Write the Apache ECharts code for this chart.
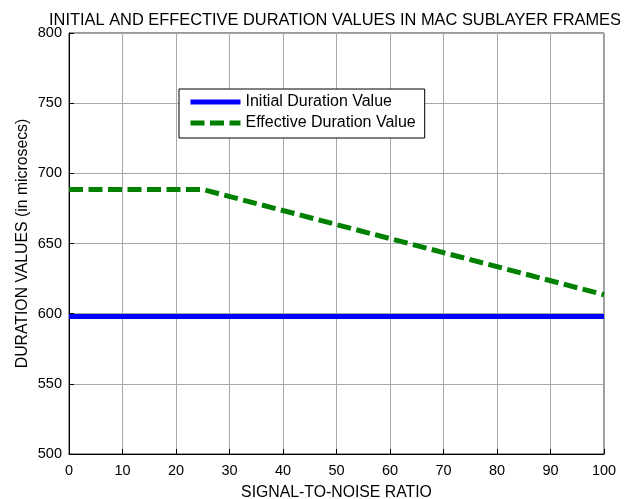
<!DOCTYPE html>
<html>
<head>
<meta charset="utf-8">
<script src="https://cdn.jsdelivr.net/npm/echarts@6/dist/echarts.min.js"></script>
<style>
  html, body { margin: 0; padding: 0; background: #fff; }
  #chart { width: 628px; height: 499px; }
</style>
</head>
<body>
<div id="chart"></div>
<script>
// values
const snr = [0, 25, 100]
const initialDuration = [598, 598, 598]
const effectiveDuration = [688.5, 688.5, 613.5]
const xTicks = [0, 10, 20, 30, 40, 50, 60, 70, 80, 90, 100]
const yTicks = [500, 550, 600, 650, 700, 750, 800]

const font = 'Liberation Sans, Arial, Helvetica, sans-serif'

const chart = echarts.init(document.getElementById('chart'))

const option = {
  animation: false,
  backgroundColor: '#fff',
  title: {
    text: 'INITIAL AND EFFECTIVE DURATION VALUES IN MAC SUBLAYER FRAMES',
    left: 330,
    textAlign: 'center',
    top: 7,
    textStyle: { fontFamily: font, fontSize: 16.4, fontWeight: 'normal', color: '#000' }
  },
  legend: {
    orient: 'vertical',
    left: 179,
    top: 89,
    padding: [5, 9, 7, 9],
    itemWidth: 50,
    itemHeight: 16,
    itemGap: 5,
    borderColor: '#000',
    borderWidth: 1,
    backgroundColor: '#fff',
    itemStyle: { opacity: 0 },
    lineStyle: { width: 5 },
    textStyle: { fontFamily: font, fontSize: 16, color: '#000' },
    data: ['Initial Duration Value', 'Effective Duration Value']
  },
  grid: {
    left: 69,
    right: 24,
    top: 33,
    bottom: 45,
    outerBoundsMode: 'none',
    show: true,
    borderColor: '#333',
    borderWidth: 1
  },
  xAxis: {
    type: 'value',
    min: xTicks[0],
    max: xTicks[xTicks.length - 1],
    interval: 10,
    name: 'SIGNAL-TO-NOISE RATIO',
    nameLocation: 'middle',
    nameGap: 31,
    nameMoveOverlap: false,
    nameTextStyle: { fontFamily: font, fontSize: 15.8, color: '#000' },
    axisLine: { lineStyle: { color: '#000', width: 1 } },
    axisTick: { inside: true, length: 5, lineStyle: { color: '#000' } },
    axisLabel: { fontFamily: font, fontSize: 14.5, color: '#000', margin: 9 },
    splitLine: { show: true, lineStyle: { color: '#a8a8a8', width: 1 } }
  },
  yAxis: {
    type: 'value',
    min: yTicks[0],
    max: yTicks[yTicks.length - 1],
    interval: 50,
    name: 'DURATION VALUES (in microsecs)',
    nameLocation: 'middle',
    nameGap: 38,
    nameMoveOverlap: false,
    nameTextStyle: { fontFamily: font, fontSize: 15.8, color: '#000' },
    axisLine: { show: true, lineStyle: { color: '#000', width: 1 } },
    axisTick: { show: true, inside: true, length: 5, lineStyle: { color: '#000' } },
    axisLabel: { fontFamily: font, fontSize: 14.5, color: '#000', margin: 7 },
    splitLine: { show: true, lineStyle: { color: '#a8a8a8', width: 1 } }
  },
  series: [
    {
      name: 'Initial Duration Value',
      type: 'line',
      symbol: 'none',
      data: snr.map((x, i) => [x, initialDuration[i]]),
      lineStyle: { color: '#0000ff', width: 5 },
      itemStyle: { color: '#0000ff' }
    },
    {
      name: 'Effective Duration Value',
      type: 'line',
      symbol: 'none',
      data: snr.map((x, i) => [x, effectiveDuration[i]]),
      lineStyle: { color: '#008000', width: 5, type: [14, 5.5] },
      itemStyle: { color: '#008000' }
    }
  ]
}

chart.setOption(option)
</script>
</body>
</html>
